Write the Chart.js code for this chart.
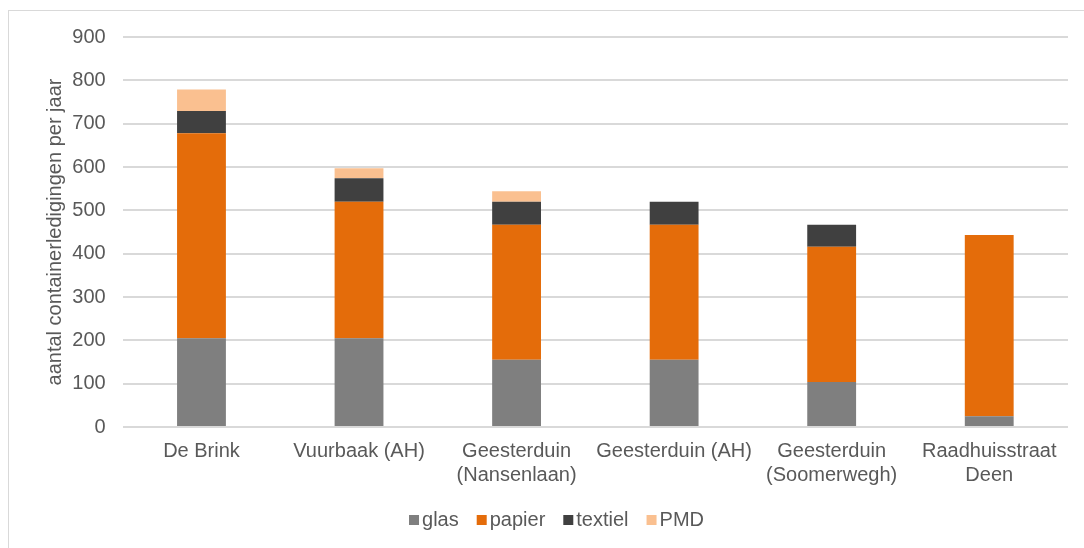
<!DOCTYPE html>
<html>
<head>
<meta charset="utf-8">
<script src="https://cdn.jsdelivr.net/npm/chart.js@4"></script>
<style>
  html, body { margin: 0; padding: 0; background: #ffffff; }
  #wrap { position: relative; width: 1084px; height: 548px; overflow: hidden; }
  #frame { position: absolute; left: 8px; top: 10px; width: 1120px; height: 580px; border: 1px solid #d9d9d9; box-sizing: border-box; }
  canvas { position: absolute; left: 0; top: 0; }
</style>
</head>
<body>
<div id="wrap">
  <div id="frame"></div>
  <canvas id="c" width="1084" height="548"></canvas>
</div>
<script>
// Locaties en aantal ledigingen per jaar per fractie
const categories = [
  "De Brink",
  "Vuurbaak (AH)",
  ["Geesterduin", "(Nansenlaan)"],
  "Geesterduin (AH)",
  ["Geesterduin", "(Soomerwegh)"],
  ["Raadhuisstraat", "Deen"]
];
const glas    = [205, 205, 155, 155, 104, 25];
const papier  = [473, 315, 312, 312, 312, 418];
const textiel = [51, 54, 53, 53, 51, 0];
const pmd     = [50, 23, 24, 0, 0, 0];
const seriesNames = ["glas", "papier", "textiel", "PMD"];
const seriesColors = ["#7f7f7f", "#e46c0a", "#404040", "#fac090"];
const yTicks = [0, 100, 200, 300, 400, 500, 600, 700, 800, 900];

const FONT = '"Liberation Sans", Arial, sans-serif';
const TEXT = "#595959";

// Legend drawn underneath the chart with compact swatches
const bottomLegend = {
  id: "bottomLegend",
  afterDraw(chart) {
    const ctx = chart.ctx;
    const sets = chart.data.datasets;
    ctx.save();
    ctx.font = "20px " + FONT;
    ctx.textBaseline = "middle";
    const box = 10, gap = 3, spacing = 18;
    const widths = sets.map(d => box + gap + ctx.measureText(d.label).width);
    const total = widths.reduce((a, b) => a + b, 0) + spacing * (sets.length - 1);
    let x = 556.5 - total / 2;
    const cy = 520;
    sets.forEach((d, i) => {
      ctx.fillStyle = d.backgroundColor;
      ctx.fillRect(x, cy - box / 2, box, box);
      ctx.fillStyle = TEXT;
      ctx.fillText(d.label, x + box + gap, cy);
      x += widths[i] + spacing;
    });
    ctx.restore();
  }
};

const values = [glas, papier, textiel, pmd];
new Chart(document.getElementById("c"), {
  type: "bar",
  data: {
    labels: categories,
    datasets: values.map((v, i) => ({
      label: seriesNames[i],
      data: v,
      backgroundColor: seriesColors[i],
      borderWidth: 0,
      barPercentage: 0.31,
      categoryPercentage: 1
    }))
  },
  options: {
    responsive: false,
    animation: false,
    devicePixelRatio: 1,
    layout: { padding: { left: 8, top: 37, right: 16, bottom: 0 } },
    plugins: {
      legend: { display: false },
      tooltip: { enabled: false }
    },
    scales: {
      x: {
        stacked: true,
        grid: { display: false },
        border: { display: false },
        ticks: {
          color: TEXT,
          font: { family: FONT, size: 20 },
          padding: 4,
          autoSkip: false,
          maxRotation: 0,
          minRotation: 0
        },
        afterFit(scale) { scale.height = 121; }
      },
      y: {
        stacked: true,
        min: yTicks[0],
        max: yTicks[yTicks.length - 1],
        afterBuildTicks(scale) { scale.ticks = yTicks.map(v => ({ value: v })); },
        grid: { color: "#d9d9d9", lineWidth: 2, drawTicks: false },
        border: { display: false },
        ticks: {
          color: TEXT,
          font: { family: FONT, size: 20 },
          padding: 17
        },
        title: {
          display: true,
          text: "aantal containerledigingen per jaar",
          color: TEXT,
          font: { family: FONT, size: 20 },
          padding: { top: 35, bottom: 5 }
        },
        afterFit(scale) { scale.width = 114.7; }
      }
    }
  },
  plugins: [bottomLegend]
});
</script>
</body>
</html>
